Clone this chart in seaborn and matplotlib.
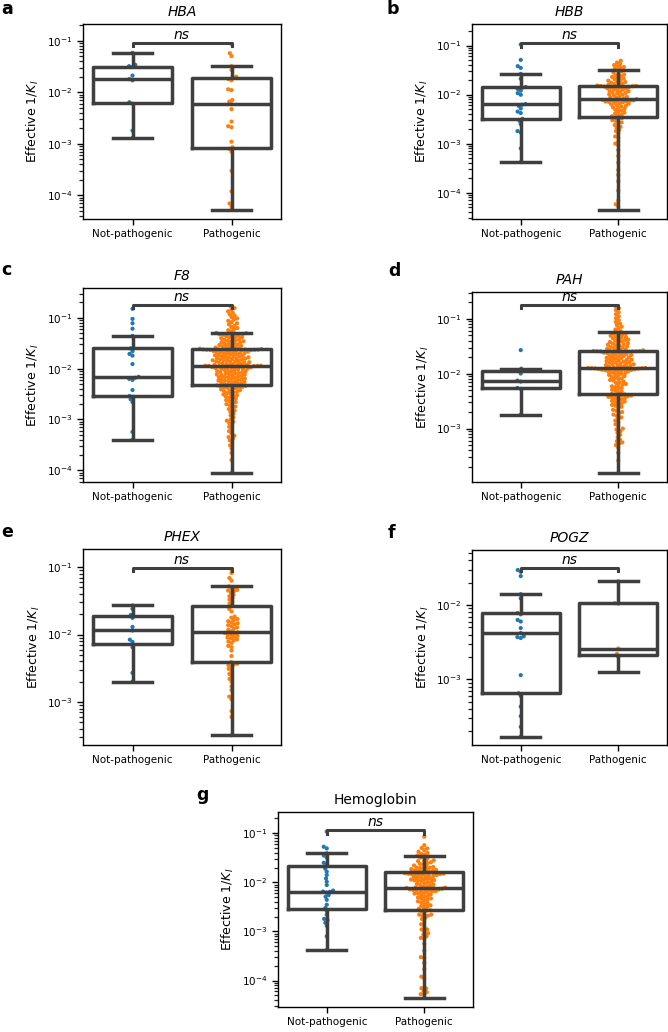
import math
import warnings

import matplotlib
matplotlib.use("Agg")
import matplotlib.pyplot as plt
from matplotlib.ticker import FixedLocator, LogLocator, NullFormatter
import numpy as np
import pandas as pd
import seaborn as sns

warnings.filterwarnings("ignore")

GROUPS = ["Not-pathogenic", "Pathogenic"]
GROUP_COLORS = ["#1f77b4", "#ff7f0e"]
LINE_COLOR = "#3f3f3f"

# ---- effective 1/K_I values ----
HBA_NP = [0.0013, 0.0018, 0.006, 0.0064, 0.017, 0.018, 0.021, 0.031, 0.032, 0.034, 0.058]
HBA_PATH = [0.085, 0.057, 0.05, 0.032, 0.027, 0.02, 0.0195, 0.018, 0.017, 0.0114,
            0.011, 0.0071, 0.0066, 0.0059, 0.0047, 0.0027, 0.0022, 0.0021, 0.0011,
            0.00086, 0.0008, 0.00071, 0.0003, 0.00012, 7e-5, 6.2e-5, 5.3e-5]

HBB_NP = [0.00042, 0.0008, 0.0017, 0.0018, 0.0025, 0.0029, 0.0032, 0.0042, 0.0045,
          0.0052, 0.0059, 0.0062, 0.0064, 0.0099, 0.0107, 0.012, 0.013, 0.0138,
          0.0143, 0.021, 0.0264, 0.035, 0.038, 0.051, 0.105]
HBB_PATH = [
    4.4e-5, 5.2e-5, 5.8e-5, 6.9e-5, 1.1e-4, 1.7e-4, 2.3e-4, 2.9e-4, 4.1e-4, 5.6e-4, 7.4e-4, 9.2e-4,
    0.001, 0.0011, 0.0013, 0.0014, 0.0016, 0.0018, 0.0019, 0.0021, 0.0022, 0.0024,
    0.0026, 0.0027, 0.0029, 0.003, 0.0032, 0.0033,
    0.0034, 0.0036, 0.0038, 0.0039, 0.0041, 0.0043, 0.0045, 0.0047, 0.0049, 0.0051,
    0.0053, 0.0055, 0.0057, 0.0059, 0.0061, 0.0063, 0.0065, 0.0066, 0.0068, 0.007,
    0.0071, 0.0072, 0.0073, 0.0074, 0.0075, 0.0076, 0.0077, 0.0078, 0.0079,
    0.0081, 0.0083, 0.0086, 0.0088, 0.009, 0.0093, 0.0096, 0.0099, 0.0102, 0.0105,
    0.0108, 0.0111, 0.0114, 0.0117, 0.012, 0.0123, 0.0126, 0.0129, 0.0132, 0.0135,
    0.0138, 0.0141, 0.0143, 0.0145, 0.0146, 0.0147, 0.0148, 0.0149, 0.015,
    0.0153, 0.0157, 0.0161, 0.0166, 0.017, 0.0175, 0.018, 0.0186, 0.0192, 0.0198,
    0.0205, 0.0212, 0.022, 0.0228, 0.0237, 0.0246, 0.0256, 0.0267, 0.028, 0.0296, 0.0314,
    0.0335, 0.035, 0.0365, 0.038, 0.04, 0.042, 0.045, 0.049,
]

F8_NP = [0.0004, 0.00057, 0.0022, 0.0025, 0.0028, 0.0029, 0.0038, 0.006, 0.0063,
         0.0066, 0.0069, 0.0123, 0.018, 0.0195, 0.022, 0.025, 0.044, 0.061, 0.078,
         0.095, 0.15]
F8_PATH = [
    8.9e-5, 1.6e-4, 2.2e-4, 2.7e-4, 3.1e-4, 3.5e-4, 3.9e-4, 4.2e-4, 4.5e-4, 4.8e-4,
    5.3e-4, 5.9e-4, 6.5e-4, 7.2e-4, 7.8e-4, 8.5e-4, 9e-4, 9.5e-4,
    0.001, 0.0011, 0.0012, 0.0013, 0.0014, 0.0015, 0.0016, 0.0017, 0.0018, 0.0019,
    0.002, 0.0021, 0.0022, 0.0023, 0.0024, 0.0025, 0.0026, 0.0027, 0.0028, 0.0029,
    0.003, 0.0031, 0.0032, 0.0033, 0.0034, 0.0035, 0.0036, 0.0037, 0.0038, 0.0039,
    0.004, 0.0041, 0.0042, 0.0043, 0.0044, 0.0044, 0.0045, 0.0046, 0.0046, 0.0047,
    0.0048, 0.0049, 0.005, 0.0051, 0.0052, 0.0053, 0.0054, 0.0055, 0.0056, 0.0057,
    0.0058, 0.0059, 0.006, 0.0061, 0.0062, 0.0063, 0.0064, 0.0066, 0.0067, 0.0068,
    0.0069, 0.007, 0.0072, 0.0073, 0.0074, 0.0076, 0.0077, 0.0078, 0.008, 0.0081,
    0.0082, 0.0084, 0.0085, 0.0087, 0.0088, 0.009, 0.0091, 0.0093, 0.0094, 0.0096,
    0.0097, 0.0099, 0.01, 0.0102, 0.0103, 0.0105, 0.0106, 0.0107, 0.0108, 0.0109,
    0.011, 0.0111, 0.0112, 0.0112, 0.0113, 0.0113, 0.0114, 0.0114,
    0.0116, 0.0118, 0.0119, 0.0121, 0.0123, 0.0124, 0.0126, 0.0128, 0.013, 0.0132,
    0.0134, 0.0136, 0.0138, 0.014, 0.0142, 0.0144, 0.0146, 0.0148, 0.015, 0.0152,
    0.0155, 0.0157, 0.0159, 0.0162, 0.0164, 0.0167, 0.0169, 0.0172, 0.0174, 0.0177,
    0.018, 0.0183, 0.0186, 0.0189, 0.0192, 0.0195, 0.0198, 0.0201, 0.0204, 0.0207,
    0.021, 0.0213, 0.0216, 0.0219, 0.0222, 0.0225, 0.0227, 0.0229, 0.0231, 0.0233,
    0.0234, 0.0235, 0.0236, 0.0237, 0.0238, 0.0239, 0.0239, 0.024,
    0.0243, 0.0247, 0.0251, 0.0255, 0.026, 0.0265, 0.027, 0.0275, 0.028, 0.0286,
    0.0292, 0.0298, 0.0304, 0.031, 0.0317, 0.0324, 0.0331, 0.0338, 0.0346, 0.0354,
    0.0362, 0.037, 0.0378, 0.0387, 0.0396, 0.0405, 0.0414, 0.0424, 0.0434, 0.0444,
    0.0454, 0.0463, 0.0472, 0.048, 0.0487, 0.0494, 0.05, 0.0505,
    0.054, 0.057, 0.06, 0.063, 0.066, 0.07, 0.074, 0.078, 0.082, 0.087,
    0.092, 0.097, 0.103, 0.11, 0.117, 0.125, 0.134, 0.144, 0.155, 0.167,
]

PAH_NP = [0.0018, 0.0053, 0.0055, 0.0072, 0.0075, 0.0101, 0.0113, 0.0124, 0.027]
PAH_PATH = [
    1.55e-4, 2.6e-4, 3.6e-4, 4.5e-4, 5e-4, 5.3e-4, 5.6e-4, 5.9e-4, 6.3e-4, 7e-4,
    7.7e-4, 8.4e-4, 9e-4, 9.6e-4,
    0.001, 0.0011, 0.0012, 0.0013, 0.0014, 0.0015, 0.0016, 0.0017, 0.0018, 0.0019,
    0.002, 0.0021, 0.0022, 0.0024, 0.0025, 0.0026, 0.0027, 0.0028, 0.0029, 0.003,
    0.0031, 0.0032, 0.0033, 0.0034, 0.0035, 0.0036, 0.0037, 0.0038, 0.0038, 0.0039,
    0.004, 0.004, 0.0041, 0.0042,
    0.0043, 0.0045, 0.0047, 0.0049, 0.0051, 0.0053, 0.0055, 0.0057, 0.0059, 0.0061,
    0.0063, 0.0065, 0.0068, 0.007, 0.0072, 0.0075, 0.0077, 0.008, 0.0082, 0.0085,
    0.0087, 0.009, 0.0093, 0.0095, 0.0098, 0.01, 0.0103, 0.0105, 0.0107, 0.0109,
    0.0111, 0.0113, 0.0115, 0.0116, 0.0117, 0.0118, 0.0119, 0.012, 0.0121, 0.0122,
    0.0123, 0.0124, 0.0125, 0.0126, 0.0126, 0.0127, 0.0127,
    0.0129, 0.0131, 0.0133, 0.0135, 0.0137, 0.014, 0.0142, 0.0144, 0.0147, 0.0149,
    0.0152, 0.0155, 0.0158, 0.016, 0.0163, 0.0166, 0.0169, 0.0172, 0.0175, 0.0178,
    0.0181, 0.0185, 0.0188, 0.0192, 0.0195, 0.0199, 0.0203, 0.0207, 0.0211, 0.0215,
    0.0219, 0.0223, 0.0227, 0.0231, 0.0235, 0.0239, 0.0243, 0.0247, 0.025, 0.0253,
    0.0255, 0.0256, 0.0257, 0.0258, 0.0259, 0.0259, 0.026,
    0.0263, 0.0268, 0.0273, 0.0278, 0.0284, 0.029, 0.0296, 0.0302, 0.0309, 0.0316,
    0.0323, 0.033, 0.0338, 0.0346, 0.0354, 0.0362, 0.0371, 0.038, 0.039, 0.04,
    0.041, 0.042, 0.0432, 0.0444, 0.0456, 0.0468, 0.048, 0.0493, 0.0506, 0.052,
    0.0535, 0.055, 0.057,
    0.06, 0.064, 0.068, 0.072, 0.077, 0.082, 0.088, 0.095, 0.103, 0.112,
    0.122, 0.133, 0.145, 0.157, 0.168,
]

PHEX_NP = [0.002, 0.0027, 0.0065, 0.0078, 0.0084, 0.0115, 0.013, 0.0177, 0.0196, 0.024, 0.027]
PHEX_PATH = [
    3.2e-4, 6e-4, 7.3e-4, 0.0011, 0.0012, 0.0015, 0.0017, 0.002, 0.0022, 0.0024,
    0.0026, 0.0029, 0.0031, 0.0033, 0.0035, 0.0036, 0.0037, 0.0039,
    0.0048, 0.0058, 0.0065, 0.0068, 0.0075, 0.0079, 0.0082, 0.0085, 0.0088, 0.009,
    0.0093, 0.0096, 0.0099, 0.0101, 0.0104, 0.0106, 0.0108,
    0.0112, 0.0118, 0.0122, 0.0128, 0.0133, 0.0138, 0.0142, 0.0147, 0.0152, 0.0158,
    0.0165, 0.017, 0.0178, 0.0185, 0.022, 0.024, 0.0264,
    0.029, 0.031, 0.033, 0.035, 0.037, 0.039, 0.042, 0.044, 0.045, 0.046,
    0.048, 0.05, 0.052, 0.063, 0.069, 0.082, 0.092,
]

POGZ_NP = [0.00017, 0.00023, 0.00032, 0.00043, 0.0006, 0.00065, 0.00114, 0.0036,
           0.0037, 0.0038, 0.0042, 0.0049, 0.006, 0.0063, 0.0075, 0.0078, 0.0123,
           0.014, 0.0245, 0.028, 0.0296]
POGZ_PATH = [0.00126, 0.002, 0.0022, 0.0026, 0.0104, 0.0106, 0.021]

HEMO_NP = [0.00042, 0.0008, 0.0013, 0.0015, 0.0017, 0.0018, 0.0022, 0.0026, 0.003,
           0.0035, 0.0044, 0.0051, 0.0055, 0.0062, 0.0064, 0.0065, 0.0068, 0.0088,
           0.0103, 0.012, 0.0141, 0.0165, 0.019, 0.023, 0.025, 0.032, 0.035, 0.039,
           0.049, 0.053, 0.108]
# pathogenic hemoglobin variants = HBA + HBB pathogenic sets
HEMO_PATH = HBA_PATH + HBB_PATH

PANEL_LETTERS = ["a", "b", "c", "d", "e", "f", "g"]
PANEL_TITLES = ["HBA", "HBB", "F8", "PAH", "PHEX", "POGZ", "Hemoglobin"]
PANEL_DATA = [(HBA_NP, HBA_PATH), (HBB_NP, HBB_PATH), (F8_NP, F8_PATH),
              (PAH_NP, PAH_PATH), (PHEX_NP, PHEX_PATH), (POGZ_NP, POGZ_PATH),
              (HEMO_NP, HEMO_PATH)]

# layout (pixels of a 668x1032 canvas): axes left, top, width, height
AX_BOXES = [(83, 24, 198, 195), (472, 24, 195, 195),
            (83, 288, 198, 194), (472, 292, 195, 190),
            (83, 549, 198, 196), (472, 550, 195, 195),
            (278, 812, 195, 195)]
LETTER_POS = [(1, 9), (387, 9), (1, 270), (388, 271), (1, 532), (388, 533), (196, 795)]
YLIMS = [(3.5e-5, 0.21), (2.9e-5, 0.275), (5.9e-5, 0.385), (1.06e-4, 0.31),
         (2.3e-4, 0.186), (1.31e-4, 0.055), (2.9e-5, 0.27)]

# swarm is laid out with smaller markers, then drawn with bigger ones (dense, overlapping look)
SWARM_LAYOUT_SIZE = 2.4
SWARM_DRAW_SIZE = 3.0

W, H = 668, 1032
plt.rcParams["xtick.labelsize"] = 7.5
plt.rcParams["ytick.labelsize"] = 7.5
plt.rcParams["axes.linewidth"] = 1.0

swarm_collections = []


def minor_log_ticks(lo, hi):
    ticks = []
    for d in range(int(math.floor(math.log10(lo))), int(math.ceil(math.log10(hi))) + 1):
        for m in range(2, 10):
            v = m * 10.0 ** d
            if lo <= v <= hi:
                ticks.append(v)
    return ticks


def draw_panel(ax, title, np_vals, path_vals, ylim, italic=True):
    df = pd.DataFrame({
        "group": [GROUPS[0]] * len(np_vals) + [GROUPS[1]] * len(path_vals),
        "value": list(np_vals) + list(path_vals),
    })
    # box stats in linear space, fliers hidden (points come from the swarm)
    sns.boxplot(data=df, x="group", y="value", order=GROUPS, color=LINE_COLOR,
                fill=False, linewidth=2.5, showfliers=False, width=0.8, ax=ax)
    for art in ax.lines + ax.patches:
        art.set_zorder(3)
    ax.set_yscale("log")
    ax.set_ylim(*ylim)
    n_before = len(ax.collections)
    sns.swarmplot(data=df, x="group", y="value", hue="group", order=GROUPS,
                  hue_order=GROUPS, palette=GROUP_COLORS, size=SWARM_LAYOUT_SIZE,
                  legend=False, ax=ax, zorder=2)
    swarm_collections.extend(ax.collections[n_before:])
    ax.set_ylim(*ylim)
    ax.set_xlim(-0.5, 1.5)
    ax.yaxis.set_major_locator(LogLocator(base=10, numticks=20))
    ax.yaxis.set_minor_locator(FixedLocator(minor_log_ticks(*ylim)))
    ax.yaxis.set_minor_formatter(NullFormatter())
    ax.tick_params(axis="y", which="minor", left=True, length=3, width=0.9, color="#222222")
    ax.tick_params(axis="both", which="major", length=4, width=1.0)

    # significance bracket
    top = df["value"].max() * 1.07
    lo, hi = ax.get_ylim()
    f = (math.log10(top) - math.log10(lo)) / (math.log10(hi) - math.log10(lo))
    trans = ax.get_xaxis_transform()
    ax.plot([0, 0, 1, 1], [f - 0.018, f, f, f - 0.018], color=LINE_COLOR, lw=2.2,
            transform=trans, zorder=4, clip_on=False)
    ax.text(0.5, f + 0.004, "ns", transform=trans, ha="center", va="bottom",
            fontsize=10, style="italic")

    ax.set_title(title, fontsize=10, style="italic" if italic else "normal", pad=6)
    ax.set_xlabel("")
    ax.set_ylabel("Effective 1/$K_I$", fontsize=9)
    for s in ax.spines.values():
        s.set_visible(True)


fig = plt.figure(figsize=(W / 100, H / 100), dpi=100)
for i, (letter, title, (npv, pv)) in enumerate(zip(PANEL_LETTERS, PANEL_TITLES, PANEL_DATA)):
    left, top, w, h = AX_BOXES[i]
    ax = fig.add_axes([left / W, 1 - (top + h) / H, w / W, h / H])
    draw_panel(ax, title, npv, pv, YLIMS[i], italic=(title != "Hemoglobin"))
    lx, ly = LETTER_POS[i]
    fig.text(lx / W, 1 - ly / H, letter, fontsize=12.5, fontweight="bold",
             ha="left", va="center")

# first draw places the swarm points; then freeze them and enlarge the markers
fig.canvas.draw()
for coll in swarm_collections:
    coll.__dict__.pop("draw", None)
    n = len(coll.get_offsets())
    if n:
        coll.set_sizes(np.full(n, SWARM_DRAW_SIZE ** 2))

fig.savefig("out.png", dpi=100)
